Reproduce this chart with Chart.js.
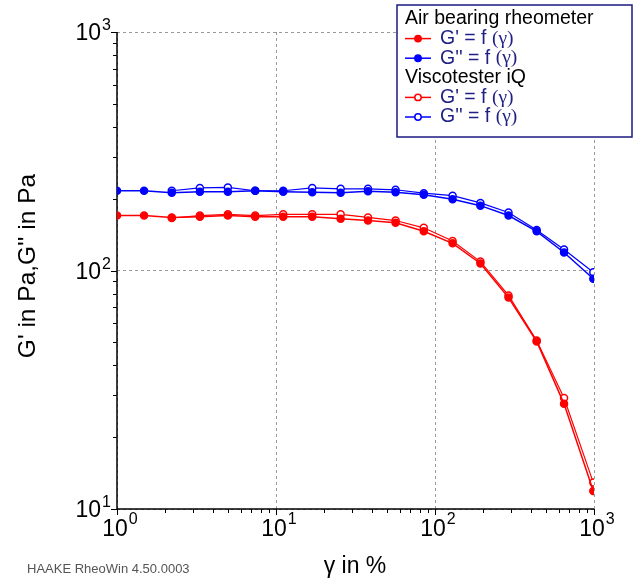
<!DOCTYPE html>
<html>
<head>
<meta charset="utf-8">
<script src="https://cdn.jsdelivr.net/npm/chart.js@4"></script>
<style>
  body { margin: 0; background: #fff; }
  #wrap { position: relative; width: 635px; height: 581px; }
</style>
</head>
<body>
<div id="wrap"><canvas id="grafico" width="635" height="581"></canvas></div>
<script>
// strain amplitude in %
const strainAir = [1, 1.48, 2.21, 3.32, 4.98, 7.4, 11.1, 16.9, 25.5, 37.9, 56.5, 85, 129, 193, 290, 436, 648, 990];
const airGp  = [170, 170, 167, 168, 170, 168, 168, 168, 165, 162, 158.5, 146, 130, 107, 77, 50.4, 27.6, 11.9];
const airGpp = [216, 216, 212, 214, 214, 216, 214, 213, 212, 215, 213, 208, 199, 187, 170, 146, 119, 92.3];

const strainVisco = [2.21, 3.32, 4.98, 7.4, 11.1, 16.9, 25.5, 37.9, 56.5, 85, 129, 193, 290, 436, 648, 990];
const viscoGp  = [166, 170, 172, 170, 172, 172, 172, 167, 162, 151, 133, 109, 78.6, 50.9, 29.2, 12.9];
const viscoGpp = [216, 222, 223, 216, 216, 222, 220, 220, 218, 211, 206, 192, 175, 148, 122.5, 98.4];

const xTicks = [1, 10, 100, 1000];
const yTicks = [10, 100, 1000];
const xTickExp = ["0", "1", "2", "3"];
const yTickExp = ["1", "2", "3"];

const legendGroups = ["Air bearing rheometer", "Viscotester iQ"];
const legendEntries = ["G' = f ", "G'' = f "];

const pts = (xs, ys) => xs.map((x, i) => ({ x: x, y: ys[i] }));

const RED = "#ff0000";
const BLUE = "#0000ff";
const FONTE = "Arial, 'Liberation Sans'";

const eixos = {
  id: "eixos",
  beforeDatasetsDraw(chart) {
    const ctx = chart.ctx;
    const a = chart.chartArea;
    const xs = chart.scales.x;
    const ys = chart.scales.y;
    ctx.save();
    ctx.strokeStyle = "#000";
    ctx.lineWidth = 1.5;
    ctx.beginPath();
    ctx.moveTo(a.left, a.top);
    ctx.lineTo(a.left, a.bottom);
    ctx.lineTo(a.right, a.bottom);
    ctx.stroke();
    ctx.lineWidth = 1;
    ctx.beginPath();
    for (let d = 1; d < 1000; d *= 10) {
      for (let k = 1; k <= 10; k++) {
        const px = Math.round(xs.getPixelForValue(d * k)) + 0.5;
        const len = k === 1 || k === 10 ? 6 : 4;
        ctx.moveTo(px, a.bottom);
        ctx.lineTo(px, a.bottom + len);
      }
    }
    for (let d = 10; d < 1000; d *= 10) {
      for (let k = 1; k <= 10; k++) {
        const py = Math.round(ys.getPixelForValue(d * k)) + 0.5;
        const len = k === 1 || k === 10 ? 6 : 4;
        ctx.moveTo(a.left, py);
        ctx.lineTo(a.left - len, py);
      }
    }
    ctx.stroke();
    ctx.restore();
  },
  afterDraw(chart) {
    const ctx = chart.ctx;
    const a = chart.chartArea;
    const xs = chart.scales.x;
    const ys = chart.scales.y;
    ctx.save();
    ctx.fillStyle = "#000";
    ctx.textBaseline = "alphabetic";
    // x tick labels
    xTicks.forEach((v, i) => {
      const px = xs.getPixelForValue(v);
      ctx.font = "23px " + FONTE;
      ctx.textAlign = "center";
      const w = ctx.measureText("10").width;
      ctx.fillText("10", px - 2, a.bottom + 27);
      ctx.font = "16px " + FONTE;
      ctx.textAlign = "left";
      ctx.fillText(xTickExp[i], px - 2 + w / 2 + 1, a.bottom + 15);
    });
    // y tick labels
    yTicks.forEach((v, i) => {
      const py = ys.getPixelForValue(v);
      ctx.font = "16px " + FONTE;
      ctx.textAlign = "left";
      const ew = ctx.measureText(yTickExp[i]).width;
      const ex = a.left - 6 - ew;
      ctx.fillText(yTickExp[i], ex, py - 2);
      ctx.font = "23px " + FONTE;
      ctx.textAlign = "right";
      ctx.fillText("10", ex - 1, py + 8);
    });
    // axis titles
    ctx.font = "23px " + FONTE;
    ctx.textAlign = "center";
    ctx.fillText("\u03b3 in %", 355, 573);
    ctx.save();
    ctx.translate(35, 266);
    ctx.rotate(-Math.PI / 2);
    ctx.font = "24.5px " + FONTE;
    ctx.fillText("G' in Pa,G'' in Pa", 0, 0);
    ctx.restore();
    ctx.font = "13px " + FONTE;
    ctx.fillStyle = "#555";
    ctx.textAlign = "left";
    ctx.fillText("HAAKE RheoWin 4.50.0003", 27, 573);

    // legend box
    const lx = 397, ly = 5, lw = 235, lh = 132;
    ctx.fillStyle = "#fff";
    ctx.fillRect(lx, ly, lw, lh);
    ctx.strokeStyle = "#1a1a80";
    ctx.lineWidth = 1.5;
    ctx.strokeRect(lx, ly, lw, lh);
    const rows = [
      { t: legendGroups[0] },
      { e: legendEntries[0], c: RED, fill: true },
      { e: legendEntries[1], c: BLUE, fill: true },
      { t: legendGroups[1] },
      { e: legendEntries[0], c: RED, fill: false },
      { e: legendEntries[1], c: BLUE, fill: false },
    ];
    rows.forEach((r, i) => {
      const cy = 19 + i * 19.6;
      ctx.textAlign = "left";
      ctx.textBaseline = "middle";
      if (r.t) {
        ctx.font = "19.5px " + FONTE;
        ctx.fillStyle = "#000";
        ctx.fillText(r.t, 405, cy);
        return;
      }
      ctx.strokeStyle = r.c;
      ctx.lineWidth = 1.5;
      ctx.beginPath();
      ctx.moveTo(405, cy);
      ctx.lineTo(431, cy);
      ctx.stroke();
      ctx.beginPath();
      ctx.arc(418, cy, 3.2, 0, Math.PI * 2);
      ctx.fillStyle = r.fill ? r.c : "#fff";
      ctx.fill();
      ctx.stroke();
      ctx.font = "19.5px " + FONTE;
      ctx.fillStyle = "#1f1f85";
      ctx.fillText(r.e, 440, cy);
      const w = ctx.measureText(r.e).width;
      ctx.font = "19.5px 'Liberation Serif', 'DejaVu Serif', serif";
      ctx.fillText("(\u03b3)", 440 + w, cy);
    });
    ctx.restore();
  },
};

new Chart(document.getElementById("grafico").getContext("2d"), {
  type: "line",
  data: {
    datasets: [
      {
        label: "Air bearing rheometer G'",
        data: pts(strainAir, airGp),
        borderColor: RED,
        backgroundColor: RED,
        pointBackgroundColor: RED,
        pointRadius: 3.5,
        borderWidth: 1.5,
      },
      {
        label: "Air bearing rheometer G''",
        data: pts(strainAir, airGpp),
        borderColor: BLUE,
        backgroundColor: BLUE,
        pointBackgroundColor: BLUE,
        pointRadius: 3.5,
        borderWidth: 1.5,
      },
      {
        label: "Viscotester iQ G'",
        data: pts(strainVisco, viscoGp),
        borderColor: RED,
        backgroundColor: "#fff",
        pointBackgroundColor: "#fff",
        pointRadius: 3.5,
        pointBorderWidth: 1.5,
        borderWidth: 1.2,
      },
      {
        label: "Viscotester iQ G''",
        data: pts(strainVisco, viscoGpp),
        borderColor: BLUE,
        backgroundColor: "#fff",
        pointBackgroundColor: "#fff",
        pointRadius: 3.5,
        pointBorderWidth: 1.5,
        borderWidth: 1.2,
      },
    ],
  },
  options: {
    responsive: false,
    animation: false,
    layout: { padding: { left: 117, right: 41, top: 32, bottom: 72 } },
    plugins: { legend: { display: false }, tooltip: { enabled: false } },
    elements: { line: { tension: 0 } },
    scales: {
      x: {
        type: "logarithmic",
        min: 1,
        max: 1000,
        afterBuildTicks: (s) => { s.ticks = xTicks.map((v) => ({ value: v })); },
        ticks: { display: false },
        border: { display: false, dash: [3, 3] },
        grid: { color: "#9a9a9a", drawTicks: false },
      },
      y: {
        type: "logarithmic",
        min: 10,
        max: 1000,
        afterBuildTicks: (s) => { s.ticks = yTicks.map((v) => ({ value: v })); },
        ticks: { display: false },
        border: { display: false, dash: [3, 3] },
        grid: { color: "#9a9a9a", drawTicks: false },
      },
    },
  },
  plugins: [eixos],
});
</script>
</body>
</html>
